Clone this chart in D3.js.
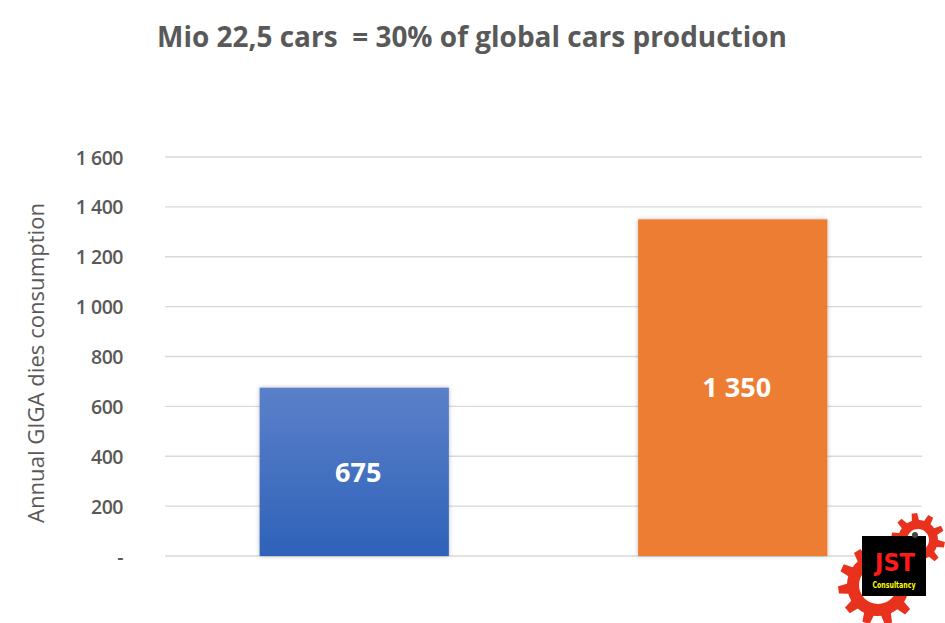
<!DOCTYPE html>
<html>
<head>
<meta charset="utf-8">
<script src="https://cdn.jsdelivr.net/npm/d3@7"></script>
<style>
  body { margin: 0; background: #fff; }
  svg { display: block; font-family: "Open Sans", "Noto Sans", sans-serif; }
</style>
</head>
<body>
<div id="viz"></div>
<script>
const width = 945;
const height = 623;
const margin = {top: 157, right: 23, bottom: 67, left: 165};

// chart data
const categories = ['A', 'B'];
const values = [675, 1350];
const barColors = ['url(#blueGrad)', '#ed7d31'];
const barLabels = ['675', '1 350'];
const yTicks = [0, 200, 400, 600, 800, 1000, 1200, 1400, 1600];
const yTickLabels = ['-', '200', '400', '600', '800', '1 000', '1 200', '1 400', '1 600'];
const titleText = 'Mio 22,5 cars  = 30% of global cars production';
const yTitle = 'Annual GIGA dies consumption';

const svg = d3.select('#viz')
  .append('svg')
    .attr('width', width)
    .attr('height', height);

const defs = svg.append('defs');
const grad = defs.append('linearGradient')
  .attr('id', 'blueGrad')
  .attr('x1', 0).attr('y1', 0).attr('x2', 0).attr('y2', 1);
grad.append('stop').attr('offset', '0%').attr('stop-color', '#5b80c9');
grad.append('stop').attr('offset', '100%').attr('stop-color', '#2f62b9');

const shadow = defs.append('filter')
  .attr('id', 'shadow')
  .attr('x', '-10%').attr('y', '-10%').attr('width', '120%').attr('height', '120%');
shadow.append('feDropShadow')
  .attr('dx', 0).attr('dy', 0).attr('stdDeviation', 2)
  .attr('flood-color', '#000').attr('flood-opacity', 0.28);

const x = d3.scaleBand()
  .domain(categories)
  .range([margin.left, width - margin.right])
  .paddingInner(0.5)
  .paddingOuter(0.25);

const y = d3.scaleLinear()
  .domain([0, 1600])
  .range([height - margin.bottom, margin.top]);

// gridlines
svg.append('g')
  .selectAll('line')
  .data(yTicks)
  .join('line')
    .attr('x1', margin.left)
    .attr('x2', width - margin.right)
    .attr('y1', d => y(d))
    .attr('y2', d => y(d))
    .attr('stroke', '#d9d9d9')
    .attr('stroke-width', 1.3);

// y axis (labels only)
const yAxis = svg.append('g')
  .attr('transform', `translate(${margin.left - 42},0)`)
  .call(d3.axisLeft(y).tickValues(yTicks).tickSize(0).tickPadding(0)
    .tickFormat((d, i) => yTickLabels[i]));
yAxis.select('.domain').remove();
yAxis.selectAll('text')
  .attr('fill', '#595959')
  .attr('dy', '0.36em')
  .style('font-size', '19.5px')
  .style('font-weight', '600')
  .style('letter-spacing', '-0.5px')
  .style('font-family', '"Open Sans", sans-serif');

// bars
svg.append('g')
  .selectAll('rect')
  .data(values)
  .join('rect')
    .attr('x', (d, i) => x(categories[i]))
    .attr('y', d => y(d))
    .attr('width', x.bandwidth())
    .attr('height', d => y(0) - y(d))
    .attr('fill', (d, i) => barColors[i])
    .attr('filter', 'url(#shadow)');

// bar labels
svg.append('g')
  .selectAll('text')
  .data(values)
  .join('text')
    .attr('x', (d, i) => x(categories[i]) + x.bandwidth() / 2 + 4)
    .attr('y', d => (y(d) + y(0)) / 2)
    .attr('dy', '0.36em')
    .attr('text-anchor', 'middle')
    .attr('fill', '#fff')
    .style('font-size', '27px')
    .style('font-weight', 'bold')
    .text((d, i) => barLabels[i]);

// fit text to a target width
function fitWidth(sel, target) {
  const w = sel.node().getComputedTextLength();
  const fs = parseFloat(sel.style('font-size'));
  sel.style('font-size', (fs * target / w) + 'px');
}

// title
const title = svg.append('text')
  .attr('x', 472)
  .attr('y', 47)
  .attr('text-anchor', 'middle')
  .attr('fill', '#595959')
  .style('font-size', '26px')
  .style('font-weight', 'bold')
  .style('white-space', 'pre')
  .attr('xml:space', 'preserve')
  .text(titleText);
fitWidth(title, 630);

// y axis title
const yt = svg.append('text')
  .attr('transform', `translate(44,363) rotate(-90)`)
  .attr('text-anchor', 'middle')
  .attr('fill', '#595959')
  .style('font-size', '19px')
  .text(yTitle);
fitWidth(yt, 320);

// logo: two gears and a black badge
function gearPath(cx, cy, rOut, rIn, rHole, teeth) {
  const p = d3.path();
  const step = Math.PI * 2 / teeth;
  for (let i = 0; i < teeth; i++) {
    const a = i * step;
    const pts = [
      [rIn, a],
      [rOut, a + step * 0.12],
      [rOut, a + step * 0.45],
      [rIn, a + step * 0.57]
    ];
    pts.forEach(([r, t], j) => {
      const px = cx + r * Math.cos(t), py = cy + r * Math.sin(t);
      if (i === 0 && j === 0) p.moveTo(px, py); else p.lineTo(px, py);
    });
    p.arc(cx, cy, rIn, a + step * 0.57, a + step);
  }
  p.closePath();
  p.moveTo(cx + rHole, cy);
  p.arc(cx, cy, rHole, 0, Math.PI * 2, true);
  p.closePath();
  return p.toString();
}

const logo = svg.append('g');
logo.append('path')
  .attr('d', gearPath(918, 540, 27, 20, 11, 10))
  .attr('fill', '#e8321e')
  .attr('fill-rule', 'evenodd');
logo.append('path')
  .attr('d', gearPath(878, 585, 40, 31, 19, 11))
  .attr('fill', '#e8321e')
  .attr('fill-rule', 'evenodd');
logo.append('rect')
  .attr('x', 862).attr('y', 536)
  .attr('width', 64).attr('height', 60)
  .attr('fill', '#000');
logo.append('circle')
  .attr('cx', 915).attr('cy', 535).attr('r', 3)
  .attr('fill', '#444');
logo.append('text')
  .attr('x', 895).attr('y', 571)
  .attr('text-anchor', 'middle')
  .attr('fill', '#ff1a1a')
  .style('font-family', '"DejaVu Sans Condensed", sans-serif')
  .style('font-weight', 'bold')
  .style('font-size', '25px')
  .attr('textLength', 40)
  .attr('lengthAdjust', 'spacingAndGlyphs')
  .text('JST');
logo.append('text')
  .attr('x', 894).attr('y', 588)
  .attr('text-anchor', 'middle')
  .attr('fill', '#ffff00')
  .style('font-family', '"DejaVu Sans Condensed", sans-serif')
  .style('font-weight', 'bold')
  .style('font-size', '9px')
  .attr('textLength', 43)
  .attr('lengthAdjust', 'spacingAndGlyphs')
  .text('Consultancy');
</script>
</body>
</html>
